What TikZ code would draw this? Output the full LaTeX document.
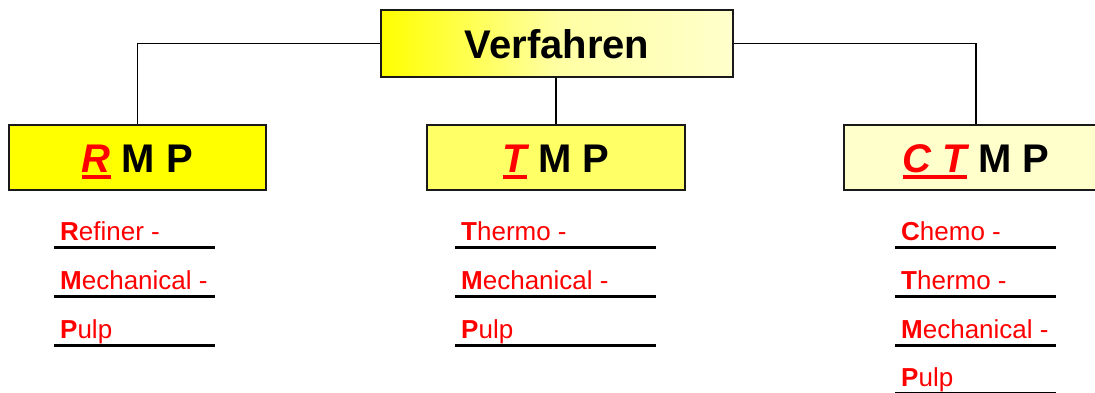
\documentclass[tikz,border=0pt]{standalone}
\usepackage{fontspec}
\setmainfont{Liberation Sans}
\usepackage{xcolor}
\usetikzlibrary{positioning}

\definecolor{rot}{RGB}{255,0,0}
\definecolor{gelb}{RGB}{255,255,0}
\definecolor{gelbmittel}{RGB}{255,255,102}
\definecolor{gelbhell}{RGB}{255,255,204}
% red italic letters with a thick red underline
\newcommand{\rotu}[1]{\textcolor{rot}{\setbox0\hbox{\itshape #1}\rlap{\rule[-7pt]{\wd0}{4pt}}\box0}}

\begin{document}
\begin{tikzpicture}[x=1pt,y=-1pt,
  kasten/.style={draw=black!90,line width=1.8pt,inner sep=0pt,minimum height=65pt,
                 text height=29pt,text depth=0pt,font=\fontsize{40}{48}\selectfont\bfseries},
  verb/.style={line width=1.3pt},
  eintrag/.style={anchor=base west,inner sep=0pt,text=rot,font=\fontsize{26}{30}\selectfont},
  regel/.style={line width=3pt}]
  \useasboundingbox (0,0) rectangle (1095,392);
  \node[kasten,minimum width=352pt,minimum height=67pt,left color=gelb,
        right color=gelbhell,middle color=gelb!20!gelbhell] (verf) at (557,43.5) {Verfahren};
  \node[kasten,minimum width=257pt,fill=gelb] (rmp) at (137.5,157.5) {\rotu{R} M P};
  \node[kasten,minimum width=258pt,fill=gelbmittel] (tmp) at (556,157.5) {\rotu{T} M P};
  \node[kasten,minimum width=264pt,fill=gelbhell] (ctmp) at (976,157.5) {\rotu{C T} M P};
  \draw[verb] (verf.west) -| (rmp.north);
  \draw[verb] (verf.east) -| (ctmp.north);
  \draw[verb] (tmp.north) -- (tmp.north |- verf.south);
  % RMP
  \node[eintrag] (r1) at (60,240) {{\bfseries R}efiner -};
  \node[eintrag] (r2) at (60,289) {{\bfseries M}echanical -};
  \node[eintrag] (r3) at (60,338) {{\bfseries P}ulp};
  \draw[regel] ([xshift=-6pt,yshift=-7pt]r1.base west) -- ++(161,0);
  \draw[regel] ([xshift=-6pt,yshift=-7pt]r2.base west) -- ++(161,0);
  \draw[regel] ([xshift=-6pt,yshift=-7pt]r3.base west) -- ++(161,0);
  % TMP
  \node[eintrag] (t1) at (461,240) {{\bfseries T}hermo -};
  \node[eintrag] (t2) at (461,289) {{\bfseries M}echanical -};
  \node[eintrag] (t3) at (461,338) {{\bfseries P}ulp};
  \draw[regel] ([xshift=-6pt,yshift=-7pt]t1.base west) -- ++(201,0);
  \draw[regel] ([xshift=-6pt,yshift=-7pt]t2.base west) -- ++(201,0);
  \draw[regel] ([xshift=-6pt,yshift=-7pt]t3.base west) -- ++(201,0);
  % CTMP
  \node[eintrag] (c1) at (901,240) {{\bfseries C}hemo -};
  \node[eintrag] (c2) at (901,289) {{\bfseries T}hermo -};
  \node[eintrag] (c3) at (901,338) {{\bfseries M}echanical -};
  \node[eintrag] (c4) at (901,386) {{\bfseries P}ulp};
  \draw[regel] ([xshift=-6pt,yshift=-7pt]c1.base west) -- ++(161,0);
  \draw[regel] ([xshift=-6pt,yshift=-7pt]c2.base west) -- ++(161,0);
  \draw[regel] ([xshift=-6pt,yshift=-7pt]c3.base west) -- ++(161,0);
  \draw[regel] ([xshift=-6pt,yshift=-7pt]c4.base west) -- ++(161,0);
\end{tikzpicture}
\end{document}
